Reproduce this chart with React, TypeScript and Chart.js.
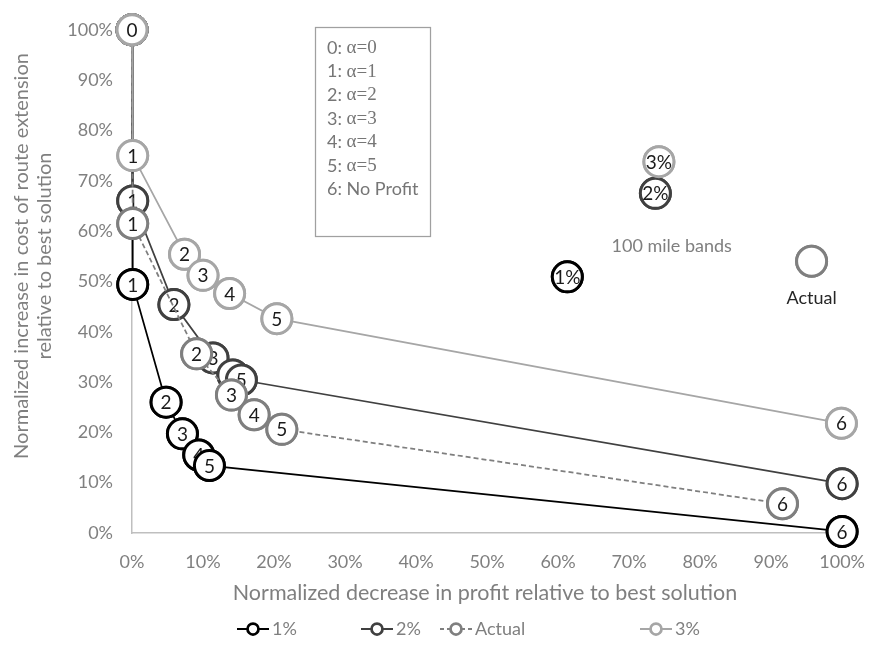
import React, { useEffect, useRef } from 'react';
import { Chart, registerables } from 'chart.js';

Chart.register(...registerables);

// ---------- data ----------
const pointLabels = ['0', '1', '2', '3', '4', '5', '6'];
const band1X = [0, 0.1, 4.8, 7.1, 9.4, 10.9, 100];
const band1Y = [100, 49.4, 26.0, 19.7, 15.5, 13.4, 0.3];
const band2X = [0, 0.1, 5.9, 11.4, 14.2, 15.4, 100];
const band2Y = [100, 66.0, 45.4, 34.8, 31.4, 30.4, 9.8];
const actualX = [0, 0.1, 9.1, 14.0, 17.2, 21.1, 91.6];
const actualY = [100, 61.5, 35.6, 27.4, 23.5, 20.6, 5.8];
const band3X = [0, 0.1, 7.4, 10.0, 13.75, 20.4, 99.9];
const band3Y = [100, 75.0, 55.4, 51.2, 47.6, 42.6, 21.8];

const seriesNames = ['1%', '2%', 'Actual', '3%'];
const noteLabels = ['1%', '2%', '3%'];
const noteX = [61.3, 73.7, 74.2];
const noteY = [50.9, 67.5, 73.8];
const actualNoteX = [95.7];
const actualNoteY = [54.0];
const actualNoteText = 'Actual';
const bandsNoteText = '100 mile bands';
const bandsNoteX = 76.0;
const bandsNoteY = 57.0;

const keyPrefixes = ['0: ', '1: ', '2: ', '3: ', '4: ', '5: ', '6: '];
const keyBodies = ['α=0', 'α=1', 'α=2', 'α=3', 'α=4', 'α=5', 'No Profit'];

const xTitle = 'Normalized decrease in profit relative to best solution';
const yTitleLines = ['Normalized increase in cost of route extension', 'relative to best solution'];

// ---------- styles ----------
const C1 = '#000000';
const C2 = '#404040';
const CA = '#7f7f7f';
const C3 = '#a6a6a6';
const SANS = "Lato, 'Open Sans', sans-serif";
const SERIF = "'Liberation Serif', 'DejaVu Serif', serif";
const TEXT_GRAY = '#7f7f7f';
const MARK_R = 15;

const pts = (xs: number[], ys: number[]) => xs.map((x, i) => ({ x, y: ys[i] }));

const overlay = {
  id: 'overlay',
  afterDatasetDraw(chart: any, args: any) {
    const ds: any = chart.data.datasets[args.index];
    if (!ds.circleRedraw) return;
    const ctx = chart.ctx;
    ctx.save();
    args.meta.data.forEach((el: any, i: number) => {
      const col = Array.isArray(ds.pointBorderColor) ? ds.pointBorderColor[i] : ds.pointBorderColor;
      ctx.beginPath();
      ctx.arc(el.x, el.y, MARK_R, 0, Math.PI * 2);
      ctx.fillStyle = '#ffffff';
      ctx.fill();
      ctx.lineWidth = 3;
      ctx.strokeStyle = col;
      ctx.stroke();
      const t = ds.pointText ? ds.pointText[i] : null;
      if (t) {
        ctx.fillStyle = '#1a1a1a';
        ctx.font = `${ds.textSize || 19}px ${SANS}`;
        ctx.textAlign = 'center';
        ctx.textBaseline = 'middle';
        ctx.fillText(t, el.x, el.y + 1);
      }
    });
    ctx.restore();
  },
  afterDraw(chart: any) {
    const ctx = chart.ctx;
    const xs = chart.scales.x;
    const ys = chart.scales.y;
    ctx.save();

    // key box
    ctx.strokeStyle = '#a0a0a0';
    ctx.lineWidth = 1.25;
    ctx.strokeRect(315.5, 27.5, 115, 209);
    ctx.textBaseline = 'middle';
    ctx.textAlign = 'left';
    keyPrefixes.forEach((p, i) => {
      const y = 48 + i * 23.6;
      ctx.fillStyle = '#767676';
      ctx.font = `18px ${SANS}`;
      ctx.fillText(p, 327, y);
      const w = ctx.measureText(p).width;
      const body = keyBodies[i];
      if (body.startsWith('α')) {
        ctx.font = `19px ${SERIF}`;
      }
      ctx.fillText(body, 327 + w, y);
    });

    // note texts
    ctx.textAlign = 'center';
    ctx.fillStyle = TEXT_GRAY;
    ctx.font = `18px ${SANS}`;
    ctx.fillText(bandsNoteText, xs.getPixelForValue(bandsNoteX), ys.getPixelForValue(bandsNoteY));
    const actMeta = chart.getDatasetMeta(5);
    if (actMeta && actMeta.data[0]) {
      const el = actMeta.data[0];
      ctx.fillStyle = '#262626';
      ctx.font = `18px ${SANS}`;
      ctx.fillText(actualNoteText, el.x, el.y + 37);
    }

    // axis titles
    ctx.fillStyle = TEXT_GRAY;
    ctx.font = `21.5px ${SANS}`;
    ctx.textAlign = 'center';
    ctx.fillText(xTitle, 485, 593);
    ctx.font = `20px ${SANS}`;
    ctx.save();
    ctx.translate(22, 256);
    ctx.rotate(-Math.PI / 2);
    ctx.fillText(yTitleLines[0], 0, 0);
    ctx.restore();
    ctx.save();
    ctx.translate(45, 256);
    ctx.rotate(-Math.PI / 2);
    ctx.fillText(yTitleLines[1], 0, 0);
    ctx.restore();

    // bottom legend
    const legendY = 629;
    const items = [
      { name: seriesNames[0], color: C1, cx: 253, dashed: false },
      { name: seriesNames[1], color: C2, cx: 377, dashed: false },
      { name: seriesNames[2], color: CA, cx: 456, dashed: true },
      { name: seriesNames[3], color: C3, cx: 656, dashed: false },
    ];
    items.forEach((it) => {
      ctx.strokeStyle = it.color;
      ctx.lineWidth = 2;
      ctx.setLineDash(it.dashed ? [4, 3] : []);
      ctx.beginPath();
      ctx.moveTo(it.cx - 16, legendY);
      ctx.lineTo(it.cx + 16, legendY);
      ctx.stroke();
      ctx.setLineDash([]);
      ctx.beginPath();
      ctx.arc(it.cx, legendY, 5.5, 0, Math.PI * 2);
      ctx.fillStyle = '#ffffff';
      ctx.fill();
      ctx.lineWidth = 2.75;
      ctx.stroke();
      ctx.fillStyle = TEXT_GRAY;
      ctx.font = `18px ${SANS}`;
      ctx.textAlign = 'left';
      ctx.fillText(it.name, it.cx + 19, legendY);
    });

    ctx.restore();
  },
};

export default function App() {
  const ref = useRef<HTMLCanvasElement | null>(null);

  useEffect(() => {
    if (!ref.current) return;
    Chart.defaults.font.family = SANS;
    const lineDs = (label: string, xs: number[], ys: number[], color: string, order: number, dash: number[]) => ({
      label,
      data: pts(xs, ys),
      showLine: true,
      borderColor: color,
      borderWidth: 1.75,
      borderDash: dash,
      pointRadius: MARK_R,
      pointBorderWidth: 3,
      pointBackgroundColor: '#ffffff',
      pointBorderColor: color,
      order,
      clip: false,
      circleRedraw: true,
      pointText: pointLabels,
    });
    const tickFont = { family: SANS, size: 18 };
    const chart = new Chart(ref.current, {
      type: 'line',
      data: {
        datasets: [
          lineDs(seriesNames[3], band3X, band3Y, C3, 0, []),
          lineDs(seriesNames[2], actualX, actualY, CA, 1, [5, 3]),
          lineDs(seriesNames[1], band2X, band2Y, C2, 2, []),
          lineDs(seriesNames[0], band1X, band1Y, C1, 3, []),
          {
            label: 'bands',
            data: pts(noteX, noteY),
            showLine: false,
            pointRadius: MARK_R,
            pointBorderWidth: 3,
            pointBackgroundColor: '#ffffff',
            pointBorderColor: [C1, C2, C3],
            order: 4,
            clip: false,
            circleRedraw: true,
            pointText: noteLabels,
            textSize: 19,
          } as any,
          {
            label: 'actualNote',
            data: pts(actualNoteX, actualNoteY),
            showLine: false,
            pointRadius: MARK_R,
            pointBorderWidth: 3,
            pointBackgroundColor: '#ffffff',
            pointBorderColor: CA,
            order: 4,
            clip: false,
            circleRedraw: true,
          } as any,
        ] as any,
      },
      options: {
        animation: false,
        responsive: false,
        devicePixelRatio: 1,
        events: [],
        layout: { padding: { top: 24, right: 26.5, bottom: 0, left: 0 } },
        plugins: { legend: { display: false }, tooltip: { enabled: false }, title: { display: false } },
        scales: {
          x: {
            type: 'linear',
            min: 0,
            max: 100,
            grid: { display: false, drawTicks: false },
            border: { display: true, color: '#bfbfbf', width: 1.5 },
            ticks: {
              stepSize: 10,
              padding: 18,
              color: '#808080',
              font: tickFont,
              callback: (v: any) => `${v}%`,
            },
            afterFit: (s: any) => {
              s.height = 112;
            },
          },
          y: {
            type: 'linear',
            min: 0,
            max: 100,
            grid: { display: false, drawTicks: false },
            border: { display: true, color: '#bfbfbf', width: 1.5 },
            ticks: {
              stepSize: 10,
              padding: 19,
              color: '#808080',
              font: tickFont,
              callback: (v: any) => `${v}%`,
            },
            afterFit: (s: any) => {
              s.width = 132;
            },
          },
        },
      },
      plugins: [overlay as any],
    });
    let alive = true;
    if ((document as any).fonts && (document as any).fonts.load) {
      Promise.all([
        (document as any).fonts.load(`16px Lato`),
        (document as any).fonts.load(`19px 'Liberation Serif'`),
      ]).then(() => {
        if (alive) chart.update();
      }).catch(() => {});
    }
    return () => {
      alive = false;
      chart.destroy();
    };
  }, []);

  return (
    <div style={{ position: 'absolute', left: 0, top: 0, width: 883, height: 645 }}>
      <canvas ref={ref} width={883} height={645} style={{ width: 883, height: 645 }} />
    </div>
  );
}
